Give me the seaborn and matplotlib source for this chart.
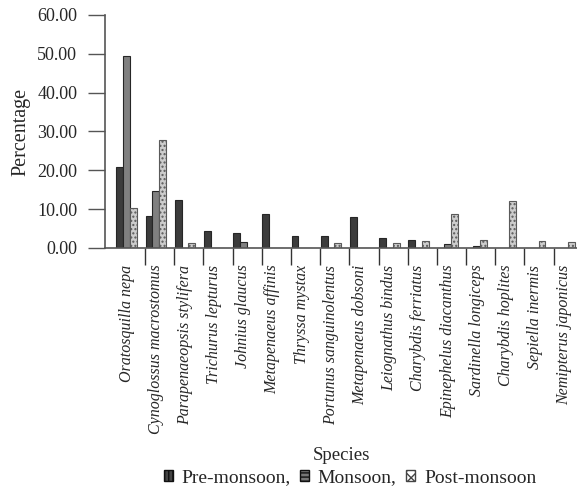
import matplotlib
matplotlib.use("Agg")
import matplotlib.pyplot as plt
from matplotlib.patches import Patch
import seaborn as sns
import pandas as pd
import numpy as np

species = ["Oratosquilla nepa", "Cynoglossus macrostomus", "Parapenaeopsis stylifera",
           "Trichurus lepturus", "Johnius glaucus", "Metapenaeus affinis", "Thryssa mystax",
           "Portunus sanguinolentus", "Metapenaeus dobsoni", "Leiognathus bindus",
           "Charybdis ferriatus", "Epinephelus diacanthus", "Sardinella longiceps",
           "Charybdis hoplites", "Sepiella inermis", "Nemipterus japonicus"]
pre_monsoon = [20.9, 8.3, 12.4, 4.3, 3.9, 8.7, 3.1, 3.0, 7.9, 2.5, 2.1, 0, 0, 0, 0, 0]
monsoon = [49.5, 14.6, 0, 0, 1.5, 0, 0, 0, 0, 0, 0, 1.0, 0.5, 0, 0, 0]
post_monsoon = [10.3, 27.8, 1.2, 0, 0, 0, 0, 1.4, 0, 1.2, 1.7, 8.8, 2.0, 12.2, 1.7, 1.6]
seasons = ["Pre-monsoon", "Monsoon", "Post-monsoon"]
yticks = [0, 10, 20, 30, 40, 50, 60]

df = pd.DataFrame({
    "species": species * 3,
    "value": pre_monsoon + monsoon + post_monsoon,
    "season": [s for s in seasons for _ in species],
})

sns.set_style("white")
plt.rcParams["font.family"] = ["Liberation Serif", "DejaVu Serif"]
plt.rcParams["hatch.color"] = "#9a9a9a"

fig = plt.figure(figsize=(5.77, 4.90), dpi=100)
ax = fig.add_axes([105 / 577, 1 - 248 / 490, 1 - 105 / 577, (248 - 15) / 490])

colors = ["#3c3c3c", "#808080", "#cdcdcd"]
sns.barplot(data=df, x="species", y="value", hue="season", hue_order=seasons,
            palette=colors, saturation=1, width=0.7, legend=False, ax=ax,
            edgecolor="#262626", linewidth=0.8)
for bar in ax.containers[2]:
    bar.set_hatch("....")
    bar.set_edgecolor("#5a5a5a")

ax.set_xlim(-0.74, len(species) - 0.57)
ax.set_ylim(0, 60)
ax.set_yticks(yticks)
ax.set_yticklabels([f"{v:.2f}" for v in yticks], fontsize=13)
ax.set_xticks(range(len(species)))
ax.set_xticklabels(species, rotation=90, fontsize=11.5, style="italic")
ax.set_xticks(np.arange(len(species) - 1) + 0.63, minor=True)
ax.tick_params(axis="x", which="major", bottom=True, length=0, pad=12)
ax.tick_params(axis="x", which="minor", bottom=True, length=12, width=1.0,
               color="#333333", direction="out")
ax.tick_params(axis="y", which="major", left=True, length=12, width=1.0,
               color="#555555", direction="out", pad=8)

for side in ["top", "right"]:
    ax.spines[side].set_visible(False)
for side in ["left", "bottom"]:
    ax.spines[side].set_color("#555555")
    ax.spines[side].set_linewidth(1.2)

ax.set_ylabel("Percentage", fontsize=14.5, labelpad=5)
ax.set_xlabel("Species", fontsize=13.5, labelpad=9)

handles = [
    Patch(facecolor="#444444", edgecolor="#111111", hatch="||||", label="Pre-monsoon,"),
    Patch(facecolor="#777777", edgecolor="#111111", hatch="----", label="Monsoon,"),
    Patch(facecolor="white", edgecolor="#444444", hatch="xxx", label="Post-monsoon"),
]
fig.legend(handles=handles, loc="center", bbox_to_anchor=(350 / 577, 1 - 478 / 490),
           ncol=3, frameon=False, fontsize=14, handlelength=0.45, handleheight=0.45,
           handletextpad=0.45, columnspacing=0.5, borderaxespad=0, borderpad=0)

fig.savefig("out.png", dpi=100)
